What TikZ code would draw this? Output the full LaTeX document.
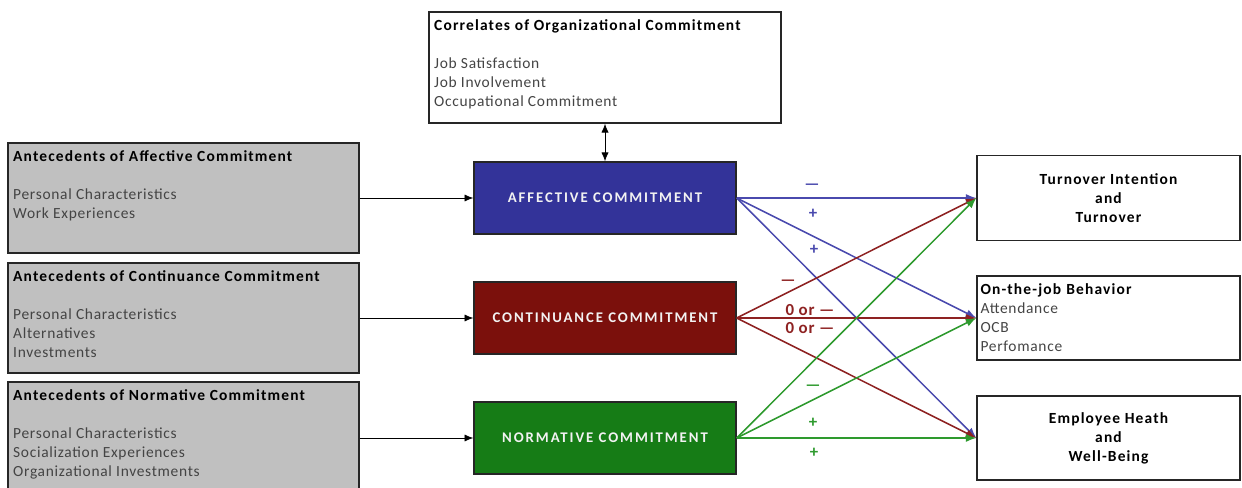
\documentclass[tikz,border=0pt]{standalone}
\usepackage{fontspec}
\setmainfont{Carlito}[LetterSpace=4.5]
\usepackage{tikz}
\usetikzlibrary{arrows.meta}

\definecolor{antGray}{HTML}{C0C0C0}
\definecolor{affFill}{HTML}{333399}
\definecolor{contFill}{HTML}{7B100C}
\definecolor{normFill}{HTML}{167C16}
\definecolor{affLine}{HTML}{4A4AAE}
\definecolor{contLine}{HTML}{8E2222}
\definecolor{normLine}{HTML}{2E9A2E}
\definecolor{itemGray}{HTML}{444444}

\newcommand{\boxtitle}[1]{{\color{black}\bfseries\addfontfeatures{LetterSpace=7.5}#1}}
\AtBeginDocument{\fontsize{11}{13.5}\selectfont}

\tikzset{
box/.style = {rectangle, draw=black!85, line width=1pt, minimum width=#1,
              inner sep=0pt},
box/.default = 6.575cm, % width of the outcome boxes
txt/.style = {anchor=north west, align=left, inner xsep=4pt, inner ysep=5.5pt, text=itemGray},
commit/.style = {rectangle, draw=black!85, line width=1pt, fill=#1,
                 minimum width=6.55cm, minimum height=1.8cm, text=white!90!gray,
                 font=\fontsize{10.5}{12}\selectfont\bfseries\addfontfeatures{LetterSpace=13}},
sign/.style = {text=#1, inner sep=1pt, font=\fontsize{12}{13.5}\selectfont\bfseries}
}

\begin{document}
\begin{tikzpicture}
  \useasboundingbox (0,0) rectangle (31.05,12.175);

  % Boxes
    \node[box=8.8cm, minimum height=2.775cm,
          label={[txt]north west:{\boxtitle{Correlates of Organizational Commitment}\\[13.5pt]Job Satisfaction\\Job Involvement\\Occupational Commitment}}]
          (corrBox) at (15.125,10.4875) {};

    \node[box=8.775cm, fill=antGray, minimum height=2.75cm,
          label={[txt]north west:{\boxtitle{Antecedents of Affective Commitment}\\[13.5pt]Personal Characteristics\\Work Experiences}}]
          (antAff) at (4.5875,7.225) {};
    \node[box=8.775cm, fill=antGray, minimum height=2.75cm,
          label={[txt]north west:{\boxtitle{Antecedents of Continuance Commitment}\\[13.5pt]Personal Characteristics\\Alternatives\\Investments}}]
          (antCont) at (4.5875,4.225) {};
    \node[box=8.775cm, fill=antGray, minimum height=2.8cm,
          label={[txt]north west:{\boxtitle{Antecedents of Normative Commitment}\\[13.5pt]Personal Characteristics\\Socialization Experiences\\Organizational Investments}}]
          (antNorm) at (4.5875,1.225) {};

    \node[commit=affFill] (affBox) at (15.125,7.225) {AFFECTIVE COMMITMENT};
    \node[commit=contFill] (contBox) at (15.125,4.225) {CONTINUANCE COMMITMENT};
    \node[commit=normFill] (normBox) at (15.125,1.225) {NORMATIVE COMMITMENT};

    \node[box, minimum height=2.125cm, align=center, font=\bfseries\addfontfeatures{LetterSpace=7.5}] (turnBox) at (27.7125,7.225) {Turnover Intention\\and\\Turnover};
    \node[box, minimum height=2.1cm, text width=6.4cm, align=left, text=itemGray] (jobBox) at (27.7125,4.225) {\boxtitle{On-the-job Behavior}\\Attendance\\OCB\\Perfomance};
    \node[box, minimum height=2.1cm, align=center, font=\bfseries\addfontfeatures{LetterSpace=7.5}] (empBox) at (27.7125,1.225) {Employee Heath\\and\\Well-Being};

  % Signs
    \node[sign=affLine] (affTurn) at (20.3,7.5) {—};
    \node[sign=affLine] (affJob) at (20.325,6.825) {+};
    \node[sign=affLine] (affEmp) at (20.35,5.925) {+};
    \node[sign=contLine] (contTurn) at (19.7,5.1) {—};
    \node[sign=contLine] (contJob) at (20.25,4.425) {0 or —};
    \node[sign=contLine] (contEmp) at (20.25,3.975) {0 or —};
    \node[sign=normLine] (normTurn) at (20.325,2.475) {—};
    \node[sign=normLine] (normJob) at (20.325,1.6) {+};
    \node[sign=normLine] (normEmp) at (20.35,0.85) {+};

  % Lines
    \draw[-{Latex[length=2.2mm,width=1.8mm]}, line width=0.6pt] (antAff) -- (affBox);
    \draw[-{Latex[length=2.2mm,width=1.8mm]}, line width=0.6pt] (antCont) -- (contBox);
    \draw[-{Latex[length=2.2mm,width=1.8mm]}, line width=0.6pt] (antNorm.east |- normBox) -- (normBox);
    \draw[{Latex[length=2.2mm,width=1.8mm]}-{Latex[length=2.2mm,width=1.8mm]}, line width=0.6pt] (corrBox) -- (affBox);
    \foreach \src/\col in {affBox/affLine, contBox/contLine, normBox/normLine}
      \foreach \dst in {turnBox, jobBox, empBox}
        \draw[-{Latex[length=2.6mm,width=2mm]}, line width=1.1pt, draw=\col, fill=\col] (\src.east) -- (\dst.west);
  \end{tikzpicture}
\end{document}
